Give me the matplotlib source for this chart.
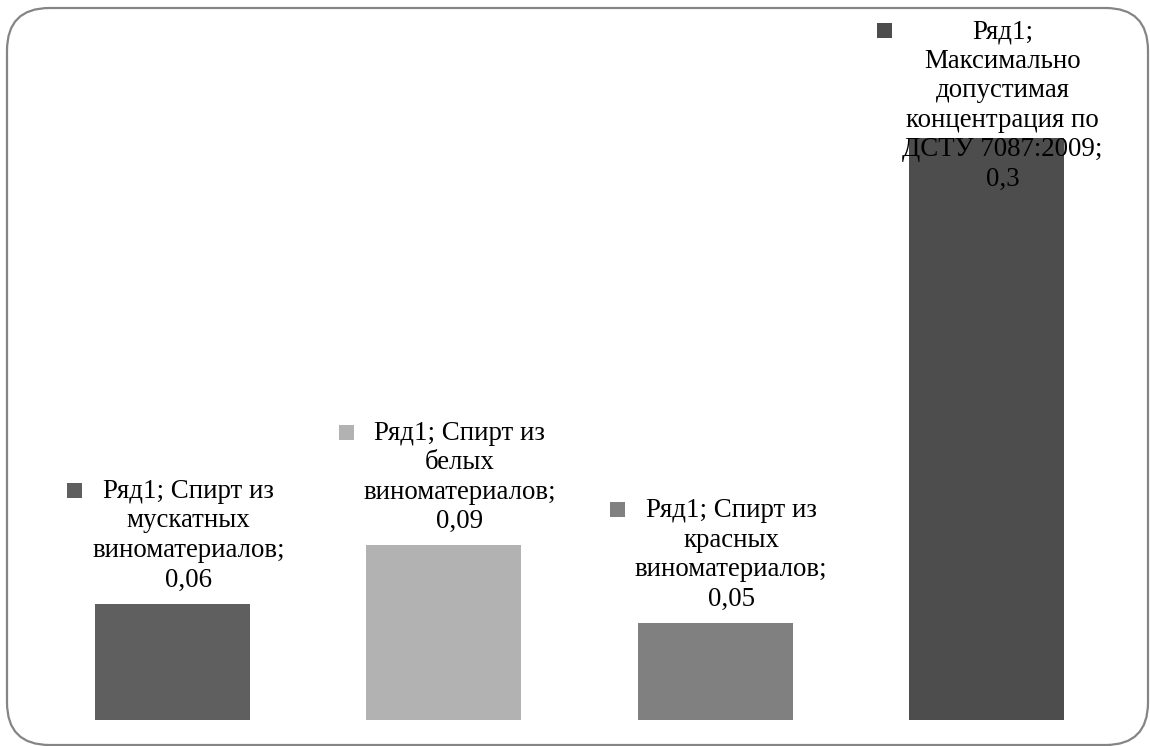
import matplotlib
matplotlib.use("Agg")
import matplotlib.pyplot as plt
from matplotlib.patches import FancyBboxPatch, Rectangle

categories = [
    "Спирт из\nмускатных\nвиноматериалов",
    "Спирт из\nбелых\nвиноматериалов",
    "Спирт из\nкрасных\nвиноматериалов",
    "Максимально\nдопустимая\nконцентрация по\nДСТУ 7087:2009",
]
values = [0.06, 0.09, 0.05, 0.3]
value_labels = ["0,06", "0,09", "0,05", "0,3"]
label_texts = [
    "Ряд1; Спирт из\nмускатных\nвиноматериалов;\n0,06",
    "Ряд1; Спирт из\nбелых\nвиноматериалов;\n0,09",
    "Ряд1; Спирт из\nкрасных\nвиноматериалов;\n0,05",
    "Ряд1;\nМаксимально\nдопустимая\nконцентрация по\nДСТУ 7087:2009;\n0,3",
]
colors = ["#5f5f5f", "#b2b2b2", "#808080", "#4d4d4d"]

W, H = 1150, 746
DPI = 100
fig = plt.figure(figsize=(W / DPI, H / DPI), dpi=DPI)
fig.patch.set_facecolor("white")

# rounded border
border = FancyBboxPatch((7 / W, 1 - 745 / H), (1148 - 7) / W, (745 - 8) / H,
                        boxstyle="round,pad=0,rounding_size=0.037",
                        transform=fig.transFigure, facecolor="none",
                        edgecolor="#858585", linewidth=1.6,
                        mutation_aspect=W / H)
fig.patches.append(border)

ax = fig.add_axes([37 / W, 1 - 720 / H, (1122 - 37) / W, (720 - 20) / H])
x = list(range(len(values)))
ax.bar(x, values, width=0.571, color=colors)
ax.set_xlim(-0.5, len(values) - 0.5)
ax.set_ylim(0, 0.3608)
ax.axis("off")

font = dict(family="Liberation Serif", size=19.4)
texts = []
for i, (v, t) in enumerate(zip(values, label_texts)):
    tx = ax.annotate(t, xy=(i, v), xytext=(16, 11), textcoords="offset pixels",
                     ha="center", va="bottom", multialignment="center",
                     color="black", linespacing=1.24, **font)
    texts.append(tx)

fig.canvas.draw()
r = fig.canvas.get_renderer()
top_limit = H - 19
for i, tx in enumerate(texts):
    bb = tx.get_window_extent(r)
    if bb.y1 > top_limit:
        shift = bb.y1 - top_limit
        off = tx.xyann
        tx.xyann = (off[0], off[1] - shift)
fig.canvas.draw()
for i, tx in enumerate(texts):
    bb = tx.get_window_extent(r)
    sq = 15
    x1 = bb.x0 - 10
    ytop = bb.y1 - 4
    fig.patches.append(Rectangle(((x1 - sq) / W, (ytop - sq) / H), sq / W, sq / H,
                                 transform=fig.transFigure, facecolor=colors[i],
                                 edgecolor="none"))

fig.savefig("out.png", dpi=DPI, facecolor="white")
